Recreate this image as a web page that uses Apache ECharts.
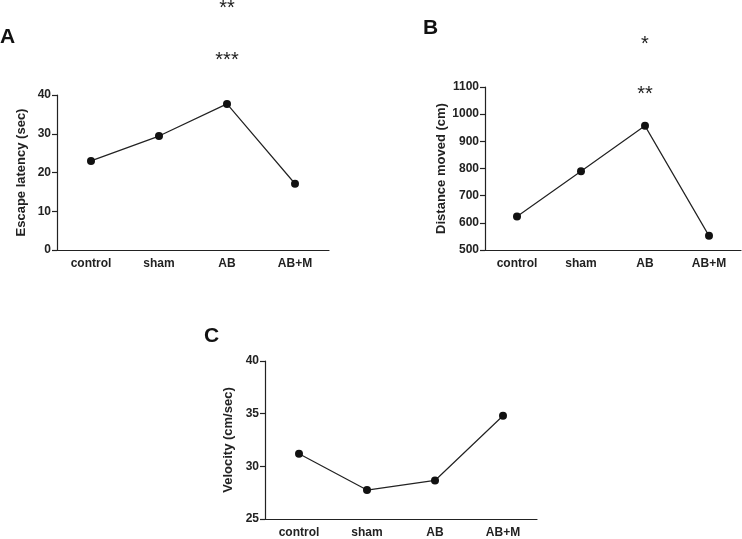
<!DOCTYPE html>
<html><head><meta charset="utf-8">
<script src="https://cdn.jsdelivr.net/npm/echarts@6/dist/echarts.min.js"></script>
<style>html,body{margin:0;padding:0;background:#fff}#c{width:742px;height:539px}</style>
</head><body><div id="c"></div>
<script>
var categories = ['control', 'sham', 'AB', 'AB+M'];
var escapeLatency = [23, 29.4, 37.7, 17.1];
var distanceMoved = [623, 790, 957, 552];
var velocity = [31.2, 27.75, 28.66, 34.8];
var yTicksA = {min: 0, max: 40, interval: 10};
var yTicksB = {min: 500, max: 1100, interval: 100};
var yTicksC = {min: 25, max: 40, interval: 5};

var FONT = '"Liberation Sans", Arial, sans-serif';
var TXT = '#222';
var chart = echarts.init(document.getElementById('c'));

function xAx(g) {
  return {
    type: 'category', gridIndex: g, data: categories, boundaryGap: true,
    axisLine: {lineStyle: {color: TXT, width: 1.2}},
    axisTick: {alignWithLabel: true, length: 5, lineStyle: {color: TXT, width: 1.2}},
    axisLabel: {color: TXT, fontFamily: FONT, fontWeight: 'bold', fontSize: 12, margin: 8}
  };
}
function yAx(g, t, name, gap) {
  return {
    type: 'value', gridIndex: g, min: t.min, max: t.max, interval: t.interval,
    name: name, nameLocation: 'middle', nameGap: gap, nameRotate: 90,
    nameTextStyle: {color: TXT, fontFamily: FONT, fontWeight: 'bold', fontSize: 13},
    splitLine: {show: false},
    axisLine: {show: true, lineStyle: {color: TXT, width: 1.2}},
    axisTick: {show: true, length: 5, lineStyle: {color: TXT, width: 1.2}},
    axisLabel: {color: TXT, fontFamily: FONT, fontWeight: 'bold', fontSize: 12, margin: 6,
      formatter: function (v) { return String(v); }}
  };
}
function ser(i, d) {
  return {
    type: 'line', xAxisIndex: i, yAxisIndex: i, data: d,
    symbol: 'circle', symbolSize: 8,
    itemStyle: {color: '#111'}, lineStyle: {color: '#222', width: 1.2},
    animation: false
  };
}

chart.setOption({
  animation: false,
  grid: [
    {left: 57, top: 95, width: 272, height: 155},
    {left: 485, top: 87, width: 256, height: 163},
    {left: 265, top: 361, width: 272, height: 158}
  ],
  xAxis: [xAx(0), xAx(1), xAx(2)],
  yAxis: [
    yAx(0, yTicksA, 'Escape latency (sec)', 29),
    yAx(1, yTicksB, 'Distance moved (cm)', 37),
    yAx(2, yTicksC, 'Velocity (cm/sec)', 30)
  ],
  series: [ser(0, escapeLatency), ser(1, distanceMoved), ser(2, velocity)]
});

var ax = chart.convertToPixel({xAxisIndex: 0}, 'AB');
var bx = chart.convertToPixel({xAxisIndex: 1}, 'AB');
function star(x, y, t) {
  return {type: 'text', x: x, y: y, style: {text: t, fill: TXT, font: '20px ' + FONT, align: 'center', verticalAlign: 'middle'}};
}
function letter(x, y, t) {
  return {type: 'text', x: x, y: y, style: {text: t, fill: '#111', font: 'bold 21px ' + FONT, align: 'left', verticalAlign: 'middle'}};
}
chart.setOption({
  graphic: [
    star(ax, 8, '**'), star(ax, 60, '***'),
    star(bx, 44, '*'), star(bx, 94, '**'),
    letter(0, 37, 'A'), letter(423, 28, 'B'), letter(204, 336, 'C')
  ]
});
</script></body></html>
